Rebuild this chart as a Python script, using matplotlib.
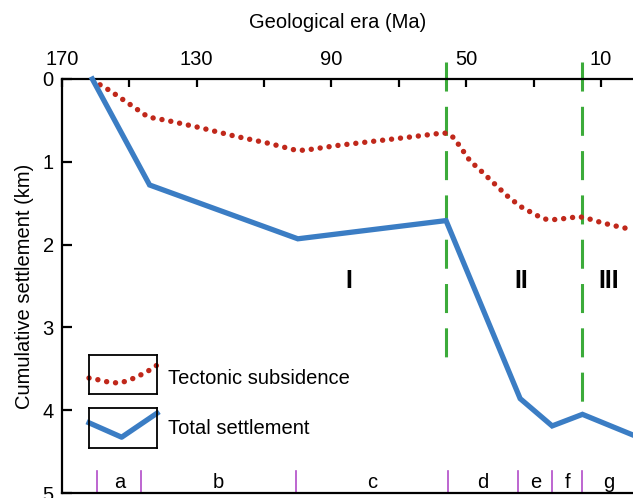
import matplotlib
matplotlib.use("Agg")
import matplotlib.pyplot as plt

plt.rcParams['font.family'] = ['Liberation Sans', 'DejaVu Sans']

# ---- data (Ma, km) ----
total_age = [161, 144, 100, 56, 34, 24.5, 15.5, 0.5]
total_settle = [0.0, 1.28, 1.93, 1.71, 3.86, 4.19, 4.05, 4.30]

tect_age = [158.7, 155.8, 149.0, 144.4, 138.9, 128.8, 118.7, 108.3, 100.6, 97.9,
            87.7, 77.1, 66.5, 56.6, 54.4, 52.1, 48.7, 46.9, 41.5, 37.9, 33.9,
            29.4, 27.0, 24.5, 19.5, 16.8, 14.3, 9.4, 4.1, 0.5]
tect_subs = [0.07, 0.14, 0.33, 0.46, 0.50, 0.59, 0.69, 0.78, 0.86, 0.86,
             0.80, 0.75, 0.70, 0.65, 0.68, 0.80, 1.00, 1.06, 1.27, 1.41, 1.54,
             1.64, 1.69, 1.70, 1.68, 1.66, 1.68, 1.74, 1.79, 1.82]

stage_bounds = [159.5, 146.5, 100.5, 55.5, 34.5, 24.5, 15.5]
stage_labels = ['a', 'b', 'c', 'd', 'e', 'f', 'g']
stage_centers = [153, 123.5, 78, 45, 29.5, 20, 7.7]

phase_lines = [56, 15.5]
phase_line_ends = [3.45, 4.07]
phase_labels = ['I', 'II', 'III']
phase_label_age = [85, 33.6, 7.7]
phase_label_depth = 2.44

xticks = [170, 150, 130, 110, 90, 70, 50, 30, 10]
xticklabels = ['170', '', '130', '', '90', '', '50', '', '10']
yticks = [0, 1, 2, 3, 4, 5]

BLUE = '#3b7dc4'
RED = '#c0281b'
GREEN = '#3cab3a'
PURPLE = '#b24cc8'
FS = 14.5

fig = plt.figure(figsize=(6.33, 4.98), dpi=100)
ax = fig.add_axes([62 / 633, 5 / 498, 1 - 62 / 633, (493 - 79) / 498])

ax.set_xlim(170, 0.5)
ax.set_ylim(5, 0)

# phase divider lines
for a, e in zip(phase_lines, phase_line_ends):
    ax.plot([a, a], [-0.2, e], color=GREEN, lw=2.2, dashes=(9.5, 5.0),
            clip_on=False, zorder=2)

ax.plot(tect_age, tect_subs, color=RED, lw=3.9, linestyle=(0, (0.01, 1.65)),
        dash_capstyle='round', zorder=3, clip_on=False)
ax.plot(total_age, total_settle, color=BLUE, lw=3.8, zorder=4,
        solid_joinstyle='miter', clip_on=False)

# stage ticks and labels
for b in stage_bounds:
    ax.plot([b, b], [4.73, 5.0], color=PURPLE, lw=1.2, zorder=2)
for lab, c in zip(stage_labels, stage_centers):
    ax.text(c, 4.87, lab, ha='center', va='center', fontsize=FS)

for lab, a in zip(phase_labels, phase_label_age):
    ax.text(a, phase_label_depth, lab, ha='center', va='center',
            fontsize=18, fontweight='bold')

# axes styling
for s in ['top', 'left', 'bottom']:
    ax.spines[s].set_linewidth(1.6)
ax.spines['right'].set_visible(False)
ax.xaxis.tick_top()
ax.set_xticks(xticks)
ax.set_xticklabels(xticklabels)
ax.set_yticks(yticks)
ax.tick_params(axis='both', direction='in', width=1.6, labelsize=FS)
ax.tick_params(axis='x', length=6, pad=7)
ax.tick_params(axis='y', length=7, pad=6)
ax.set_ylabel('Cumulative settlement (km)', fontsize=FS, labelpad=6)
fig.text(338 / 633, 1 - 23 / 498, 'Geological era (Ma)', ha='center',
         va='center', fontsize=FS)

# custom legend
icon_x = [0.0, 0.15, 0.3, 0.45, 0.6, 0.75, 0.9, 1.0]
icon_red = [0.41, 0.36, 0.30, 0.28, 0.36, 0.48, 0.62, 0.74]
icon_bx = [0.0, 0.48, 1.0]
icon_blue = [0.63, 0.27, 0.87]

lax1 = fig.add_axes([89 / 633, 1 - 394 / 498, 68 / 633, 39 / 498])
lax1.plot(icon_x, icon_red, color=RED, lw=3.9, linestyle=(0, (0.01, 1.65)),
          dash_capstyle='round', clip_on=False)
lax2 = fig.add_axes([89 / 633, 1 - 448 / 498, 68 / 633, 40 / 498])
lax2.plot(icon_bx, icon_blue, color=BLUE, lw=3.8, clip_on=False)
for la in (lax1, lax2):
    la.set_xlim(0, 1)
    la.set_ylim(0, 1)
    la.set_xticks([])
    la.set_yticks([])
    for s in la.spines.values():
        s.set_linewidth(1.3)
fig.text(168 / 633, 1 - 378 / 498, 'Tectonic subsidence', ha='left',
         va='center', fontsize=FS)
fig.text(168 / 633, 1 - 428 / 498, 'Total settlement', ha='left',
         va='center', fontsize=FS)

fig.savefig('out.png', dpi=100)
